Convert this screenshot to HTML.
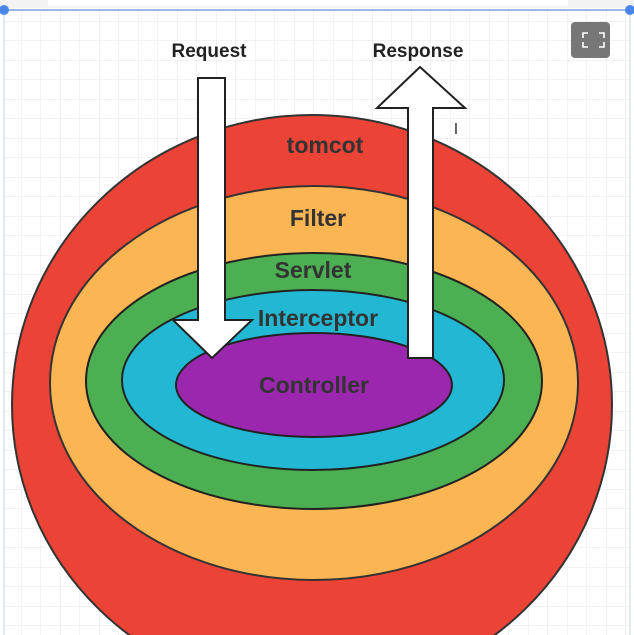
<!DOCTYPE html>
<html><head><style>
html,body{margin:0;padding:0;width:634px;height:635px;overflow:hidden;background:#fff;}
svg{display:block;}
</style></head><body>
<svg width="634" height="635" viewBox="0 0 634 635" xmlns="http://www.w3.org/2000/svg" font-family="Liberation Sans, sans-serif">
<defs>
<pattern id="g" width="19.5" height="19.5" patternUnits="userSpaceOnUse" x="2" y="2">
<path d="M19.5 0V19.5H0" fill="none" stroke="#e6e6e6" stroke-width="1"/>
</pattern>
<clipPath id="c"><rect x="0" y="0" width="634" height="635"/></clipPath>
</defs>
<g clip-path="url(#c)">
<rect x="0" y="0" width="634" height="8" fill="#f3f3f3"/>
<rect x="48" y="0" width="520" height="6" fill="#fff"/>
<rect x="4" y="10" width="626" height="625" fill="url(#g)"/>
<line x1="4" y1="10" x2="630" y2="10" stroke="#7aa0e0" stroke-width="1.5"/>
<line x1="4" y1="10" x2="4" y2="635" stroke="#c8d4ea" stroke-width="1"/>
<line x1="630" y1="10" x2="630" y2="635" stroke="#c8d4ea" stroke-width="1"/>
<circle cx="4" cy="10" r="5" fill="#4a86e8"/>
<circle cx="630" cy="10" r="5" fill="#4a86e8"/>
<rect x="571" y="22" width="39" height="36" rx="4" fill="#777"/>
<path d="M588 33h-5v5M599 33h5v5M588 47h-5v-5M599 47h5v-5" fill="none" stroke="#fff" stroke-width="1.6"/>
<ellipse cx="312" cy="405" rx="300" ry="290" fill="#ec4337" stroke="#333" stroke-width="2"/>
<ellipse cx="314" cy="383" rx="264" ry="197" fill="#fbb653" stroke="#333" stroke-width="2"/>
<ellipse cx="314" cy="381" rx="228" ry="128" fill="#4caf52" stroke="#222" stroke-width="2"/>
<ellipse cx="313" cy="380" rx="191" ry="90" fill="#22b8d3" stroke="#222" stroke-width="2"/>
<ellipse cx="314" cy="385" rx="138" ry="52" fill="#9b27ae" stroke="#222" stroke-width="2"/>
<g font-weight="bold" fill="#333" text-anchor="middle" font-size="23">
<text x="325" y="153">tomcot</text>
<text x="318" y="226">Filter</text>
<text x="313" y="278">Servlet</text>
<text x="318" y="326">Interceptor</text>
<text x="314" y="393">Controller</text>
</g>
<path d="M198 78H225V320H252L212 358L173 320H198Z" fill="#fff" stroke="#222" stroke-width="2"/>
<path d="M408 358V108H377L420 67L465 108H433V358Z" fill="#fff" stroke="#222" stroke-width="2"/>
<g font-weight="bold" fill="#222" text-anchor="middle" font-size="19">
<text x="209" y="57">Request</text>
<text x="418" y="57">Response</text>
</g>
<text x="456" y="134" font-size="16" fill="#333" text-anchor="middle">I</text>
</g>
</svg>
</body></html>
